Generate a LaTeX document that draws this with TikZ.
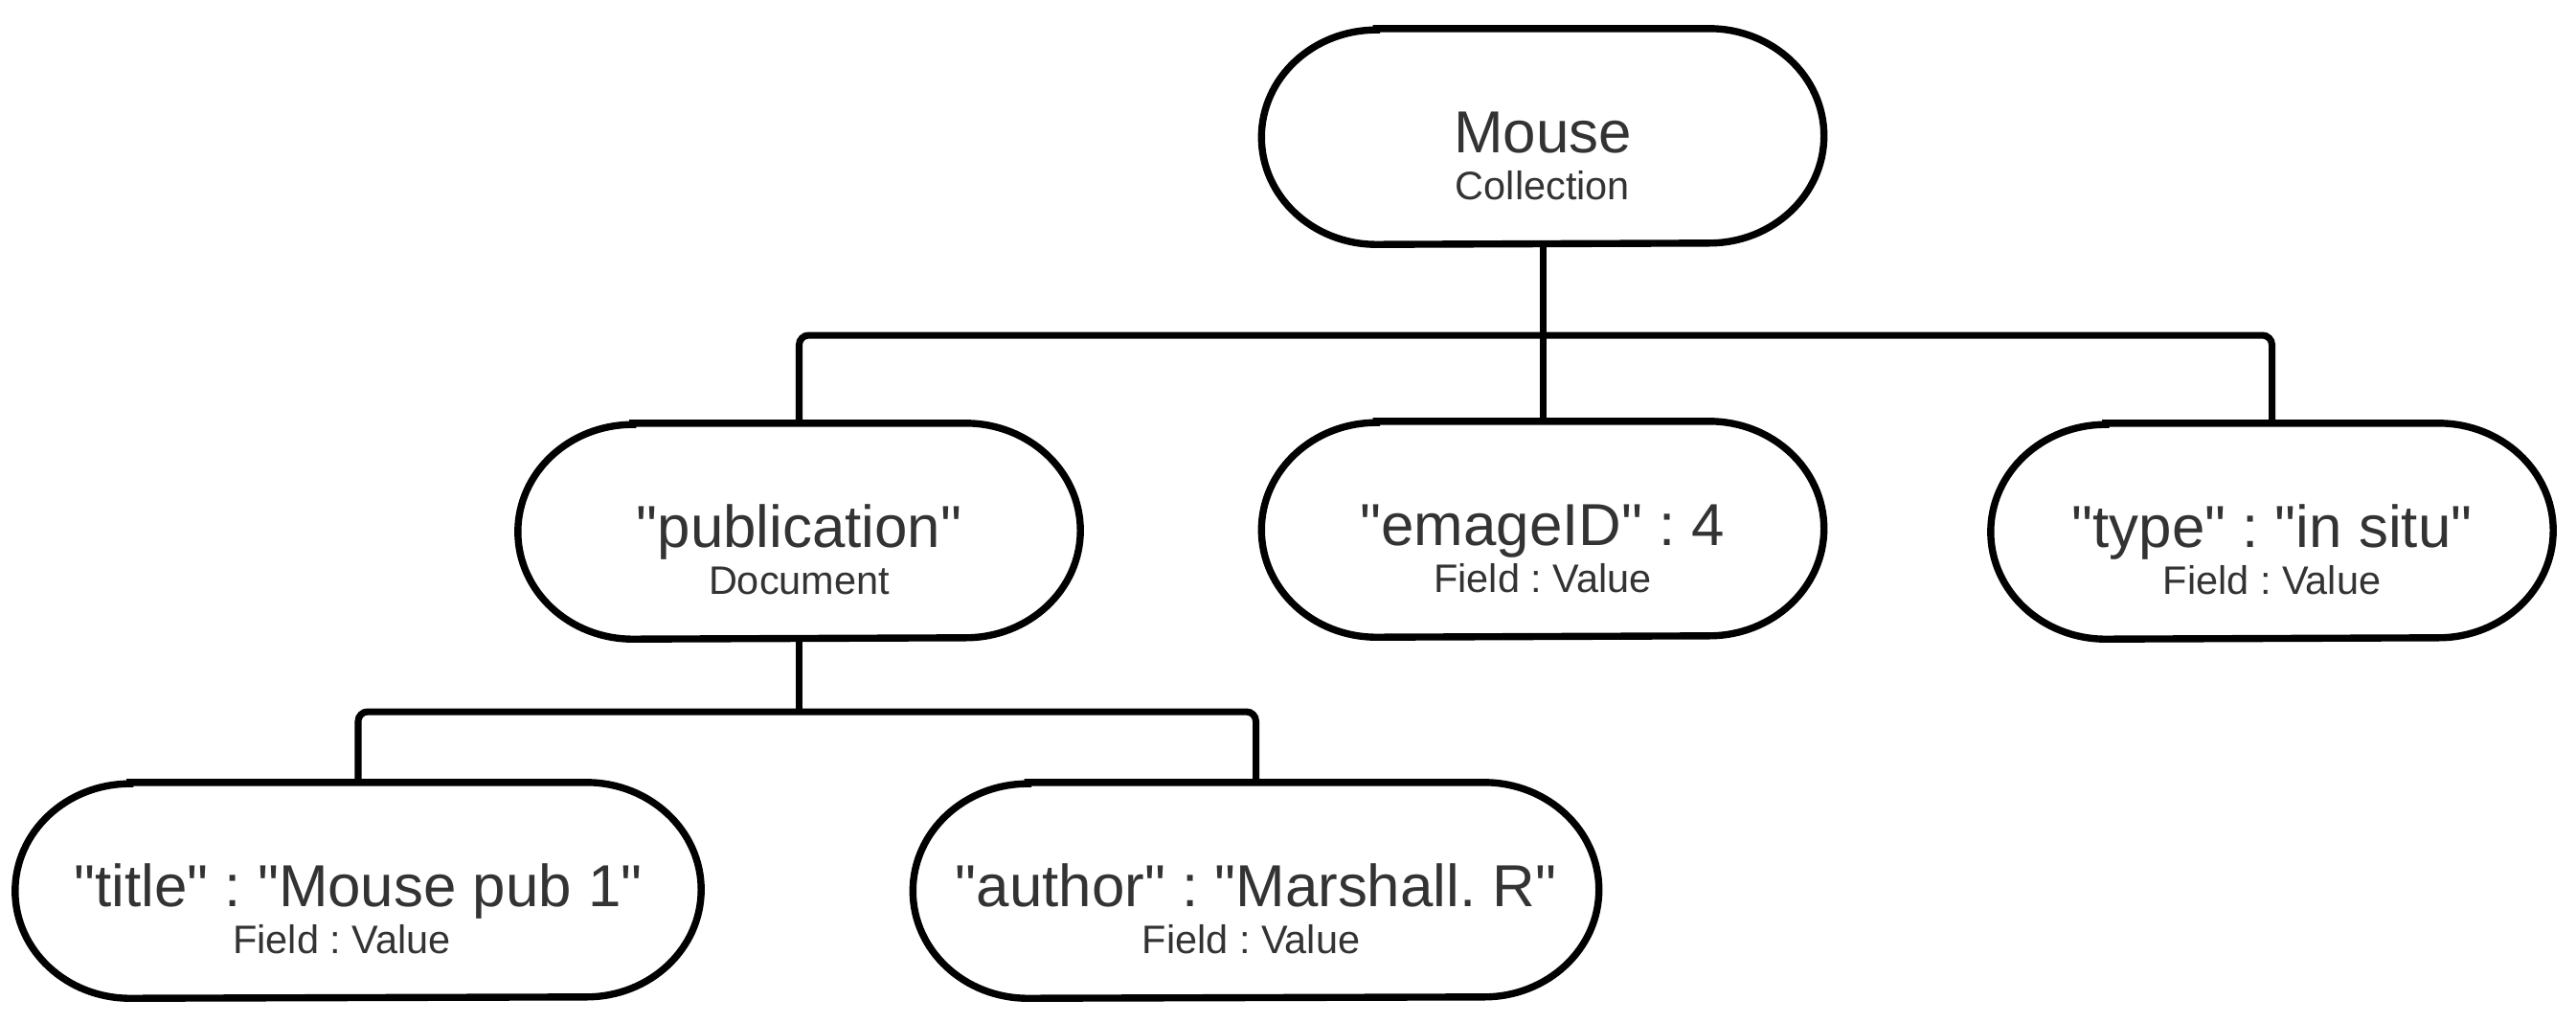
\documentclass[tikz,border=0pt]{standalone}
\usepackage{fontspec}
\setmainfont{Liberation Sans}[Ligatures=TeXOff]
\frenchspacing
\definecolor{txt}{HTML}{333333}
\tikzset{
 box/.style={rectangle, minimum width=5.86cm, minimum height=2.24cm, inner sep=0pt},
 wbox/.style={box, minimum width=7.15cm},
 outline/.style={draw=black, line width=2.1pt, fill=white},
 maintext/.style={anchor=base, text=txt, font=\fontsize{17.6}{20}\selectfont, inner sep=0pt},
 subtext/.style={anchor=base, text=txt, font=\fontsize{11.8}{14}\selectfont, inner sep=0pt},
 conn/.style={draw=black, line width=2pt, rounded corners=0.1cm},
}
\newcommand\pillout[1]{\path[outline] ([xshift=1.2cm]#1.north west) -- ([xshift=-1.2cm]#1.north east) arc[start angle=90,end angle=-90,x radius=1.2cm,y radius=1.12cm] -- ([xshift=1.2cm]#1.south west) arc[start angle=270,end angle=90,x radius=1.2cm,y radius=1.12cm] -- cycle;}
\begin{document}
\begin{tikzpicture}
\useasboundingbox (0,0) rectangle (26.9,-10.67);
\node[box] (mouse) at (16.11,-1.425) {};
\node[box] (pub) at (8.345,-5.545) {};
\node[box] (emage) at (16.11,-5.525) {};
\node[box] (type) at (23.725,-5.545) {};
\node[wbox] (title) at (3.74,-9.295) {};
\node[wbox] (author) at (13.115,-9.295) {};
\coordinate (bus) at (0,-3.50);
\coordinate (bustwo) at (0,-7.43);
% connectors
\draw[conn] (mouse.south) -- (emage.north);
\draw[conn] (pub.north) -- (pub.north |- bus) -- (type.north |- bus) -- (type.north);
\draw[conn] (pub.south) -- (pub.south |- bustwo);
\draw[conn] (title.north) -- (title.north |- bustwo) -- (author.north |- bustwo) -- (author.north);
% outlines
\pillout{mouse}
\pillout{pub}
\pillout{emage}
\pillout{type}
\pillout{title}
\pillout{author}
% texts
\node[maintext] (mouse-t) at ([yshift=-0.17cm]mouse.center) {Mouse};
\node[subtext] (mouse-s) at ([yshift=-0.66cm]mouse.center) {Collection};
\node[maintext] (pub-t) at ([yshift=-0.17cm]pub.center) {"publication"};
\node[subtext] (pub-s) at ([yshift=-0.66cm]pub.center) {Document};
\node[maintext] (emage-t) at ([yshift=-0.17cm]emage.center) {"emageID" : 4};
\node[subtext] (emage-s) at ([yshift=-0.66cm]emage.center) {Field : Value};
\node[maintext] (type-t) at ([yshift=-0.17cm]type.center) {"type" : "in situ"};
\node[subtext] (type-s) at ([yshift=-0.66cm]type.center) {Field : Value};
\node[maintext] (title-t) at ([yshift=-0.17cm]title.center) {"title" : "Mouse pub 1"};
\node[subtext] (title-s) at ([xshift=-0.17cm,yshift=-0.66cm]title.center) {Field : Value};
\node[maintext] (author-t) at ([yshift=-0.17cm]author.center) {"author" : "Marshall. R"};
\node[subtext] (author-s) at ([xshift=-0.05cm,yshift=-0.66cm]author.center) {Field : Value};
\end{tikzpicture}
\end{document}
